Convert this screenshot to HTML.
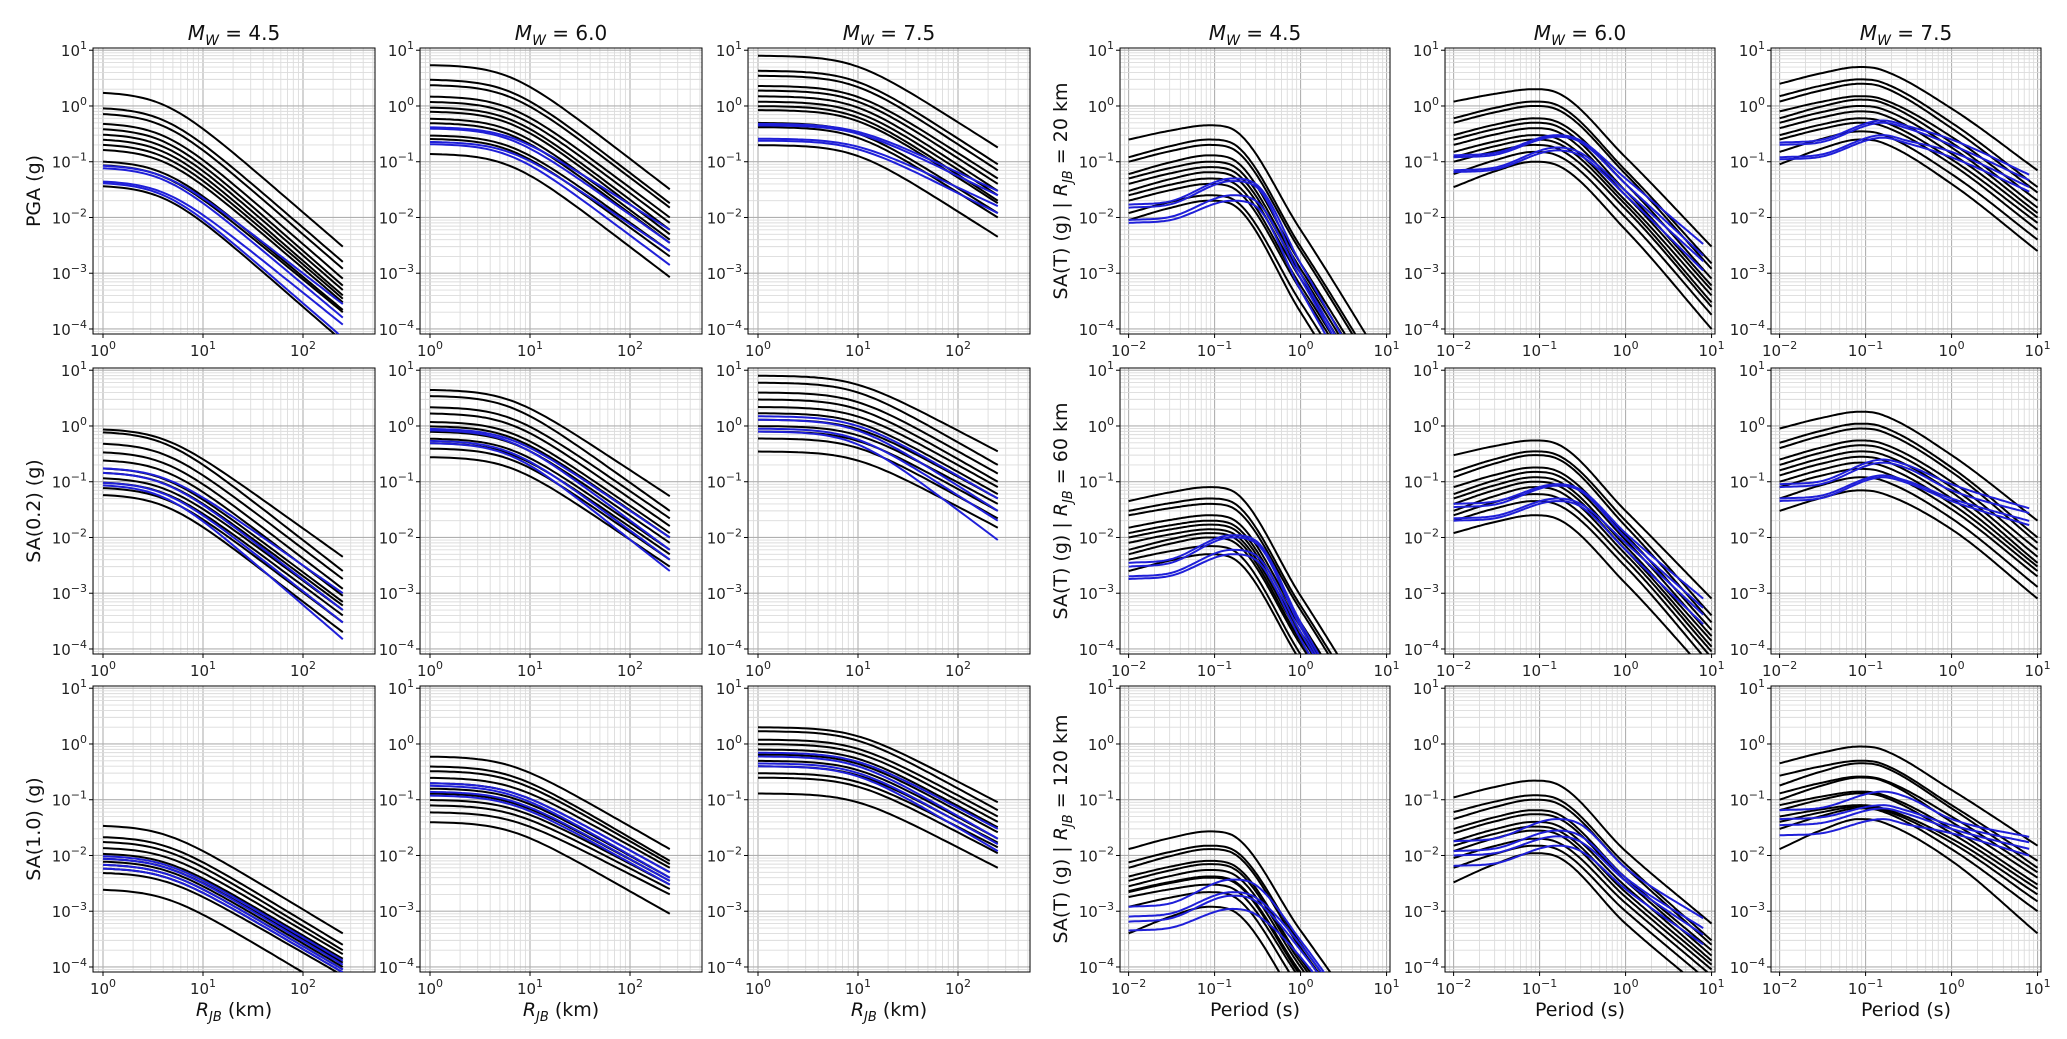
<!DOCTYPE html>
<html><head><meta charset="utf-8"><style>
html,body{margin:0;padding:0;background:#fff;width:2067px;height:1039px;overflow:hidden}
svg{display:block;font-family:"DejaVu Sans","Liberation Sans",sans-serif}
</style></head><body>
<svg id="fig" width="2067" height="1039" viewBox="0 0 2067 1039" xmlns="http://www.w3.org/2000/svg"></svg>
<script>
// ---------- data: distance panels (start value at R=1 km, end value at R=250 km) ----------
const magnitudes = ["4.5","6.0","7.5"];
const distLabels = ["PGA (g)","SA(0.2) (g)","SA(1.0) (g)"];
const periodRowDist = ["20","60","120"];
const dBlackStart = [
 [[1.8,0.95,0.75,0.5,0.4,0.32,0.26,0.21,0.17,0.105,0.09,0.038],[5.5,3,2.4,1.5,1.2,0.95,0.8,0.6,0.5,0.3,0.26,0.14],[8,4.3,3.5,2.3,1.9,1.5,1.2,1.0,0.85,0.5,0.42,0.2]],
 [[0.9,0.8,0.5,0.35,0.25,0.18,0.15,0.12,0.1,0.08,0.06],[4.5,3.5,2.2,1.7,1.2,1,0.8,0.6,0.5,0.4,0.28],[8,6,4,3,2.2,1.7,1.3,1.0,0.8,0.6,0.35]],
 [[0.035,0.022,0.018,0.014,0.011,0.009,0.008,0.007,0.006,0.005,0.0025],[0.6,0.4,0.33,0.25,0.2,0.16,0.13,0.1,0.08,0.06,0.04],[2,1.7,1.2,1.0,0.8,0.65,0.5,0.4,0.3,0.25,0.13]]];
const dBlackEnd = [
 [[3e-3,1.6e-3,1.2e-3,8e-4,6e-4,5e-4,4e-4,3.5e-4,3e-4,2.2e-4,2e-4,6e-5],[3.2e-2,1.8e-2,1.5e-2,1e-2,8e-3,6e-3,5e-3,4e-3,3.5e-3,2.5e-3,2e-3,8.5e-4],[0.18,0.09,0.07,0.05,0.04,0.03,0.025,0.02,0.018,0.012,0.01,4.5e-3]],
 [[4.5e-3,2.5e-3,1.8e-3,1.2e-3,9e-4,7e-4,6e-4,5e-4,4e-4,3e-4,2e-4],[0.055,0.03,0.022,0.016,0.012,0.01,0.008,0.006,0.005,0.004,0.003],[0.35,0.2,0.14,0.1,0.08,0.06,0.05,0.04,0.03,0.022,0.015]],
 [[4e-4,2.5e-4,2e-4,1.7e-4,1.4e-4,1.2e-4,1e-4,9e-5,8e-5,7e-5,3e-5],[0.013,0.008,0.007,0.006,0.005,0.004,0.0035,0.003,0.0025,0.002,0.0009],[0.09,0.065,0.05,0.04,0.032,0.026,0.02,0.017,0.014,0.011,0.006]]];
const dBlueStart = [
 [[0.088,0.08,0.046,0.043],[0.42,0.4,0.23,0.21],[0.48,0.45,0.26,0.24]],
 [[0.18,0.15,0.1,0.09],[0.9,0.85,0.55,0.5],[1.5,1.3,0.9,0.8]],
 [[0.01,0.009,0.007,0.006],[0.2,0.18,0.14,0.12],[0.7,0.6,0.45,0.4]]];
const dBlueEnd = [
 [[2.8e-4,1.6e-4,1.2e-4,7e-5],[6e-3,3.5e-3,2.5e-3,1.4e-3],[0.03,0.025,0.016,0.012]],
 [[1e-3,5e-4,3e-4,1.5e-4],[0.01,0.006,0.004,0.0025],[0.05,0.03,0.02,0.009]],
 [[1.3e-4,1.1e-4,9e-5,8e-5],[0.005,0.004,0.0035,0.003],[0.03,0.02,0.016,0.012]]];
// ---------- data: spectra panels (values at T=0.01, peak, T=1, T=10) ----------
const sBlackV0 = [
 [[0.25,0.12,0.1,0.06,0.05,0.04,0.03,0.025,0.02,0.012,0.009],[1.2,0.6,0.5,0.3,0.25,0.2,0.15,0.12,0.1,0.06,0.035],[2.5,1.5,1.2,0.8,0.6,0.5,0.4,0.3,0.25,0.15,0.09]],
 [[0.045,0.03,0.025,0.015,0.012,0.01,0.008,0.006,0.005,0.004,0.0025],[0.3,0.15,0.12,0.08,0.06,0.05,0.04,0.03,0.025,0.02,0.012],[0.9,0.5,0.4,0.25,0.2,0.16,0.13,0.1,0.08,0.05,0.03]],
 [[0.013,0.0075,0.006,0.0042,0.0035,0.0028,0.0023,0.0022,0.0018,0.0012,0.0004],[0.11,0.06,0.045,0.03,0.025,0.018,0.015,0.012,0.009,0.006,0.0033],[0.45,0.27,0.18,0.13,0.1,0.08,0.065,0.05,0.04,0.03,0.013]]];
const sBlackPk = [
 [[0.45,0.25,0.2,0.13,0.1,0.08,0.065,0.05,0.04,0.025,0.02],[2,1.2,1.0,0.6,0.5,0.4,0.3,0.25,0.2,0.15,0.1],[5,3,2.5,1.5,1.3,1.0,0.8,0.6,0.5,0.35,0.25]],
 [[0.08,0.05,0.04,0.025,0.02,0.017,0.014,0.012,0.01,0.007,0.005],[0.55,0.35,0.3,0.18,0.15,0.12,0.1,0.08,0.06,0.045,0.025],[1.8,1.1,0.9,0.55,0.45,0.35,0.28,0.22,0.17,0.12,0.07]],
 [[0.027,0.015,0.013,0.008,0.007,0.0055,0.0042,0.004,0.003,0.0022,0.0012],[0.22,0.12,0.1,0.065,0.055,0.04,0.033,0.028,0.02,0.015,0.011],[0.9,0.5,0.45,0.26,0.25,0.14,0.13,0.08,0.075,0.07,0.045]]];
const sBlackV1 = [
 [[0.006,0.003,0.0025,0.0015,0.0012,0.001,0.0008,0.0006,0.0005,0.0003,0.0002],[0.12,0.07,0.06,0.04,0.03,0.025,0.02,0.017,0.014,0.01,0.006],[0.9,0.5,0.4,0.28,0.22,0.18,0.14,0.11,0.09,0.06,0.04]],
 [[9e-4,6e-4,5e-4,3e-4,2.5e-4,2e-4,1.7e-4,1.4e-4,1.2e-4,8e-5,6e-5],[0.03,0.02,0.016,0.011,0.009,0.007,0.006,0.005,0.004,0.003,0.0015],[0.3,0.18,0.15,0.1,0.08,0.065,0.05,0.04,0.032,0.022,0.014]],
 [[4.5e-4,2.6e-4,2.2e-4,1.4e-4,1.2e-4,1e-4,8e-5,7e-5,6e-5,4e-5,2e-5],[0.012,0.007,0.006,0.004,0.0035,0.0028,0.0022,0.0018,0.0014,0.001,0.0006],[0.15,0.08,0.07,0.05,0.04,0.03,0.025,0.02,0.017,0.013,0.008]]];
const sBlackV10 = [
 [[2e-5,1e-5,8e-6,5e-6,4e-6,3e-6,2.5e-6,2e-6,1.5e-6,1e-6,6e-7],[3e-3,1.5e-3,1.2e-3,8e-4,6e-4,5e-4,4e-4,3e-4,2.5e-4,1.8e-4,1e-4],[0.07,0.035,0.028,0.02,0.015,0.012,0.01,0.008,0.006,0.004,0.0025]],
 [[3e-6,2e-6,1.5e-6,1e-6,8e-7,7e-7,6e-7,5e-7,4e-7,3e-7,2e-7],[8e-4,4e-4,3e-4,2.2e-4,1.7e-4,1.4e-4,1.1e-4,9e-5,7e-5,5e-5,3e-5],[0.02,0.01,0.008,0.006,0.0045,0.0035,0.003,0.0025,0.002,0.0013,8e-4]],
 [[3e-6,1.7e-6,1.5e-6,9e-7,8e-7,6e-7,5e-7,4.5e-7,4e-7,2.5e-7,1.3e-7],[6e-4,3e-4,2.5e-4,2e-4,1.6e-4,1.3e-4,1.1e-4,9e-5,7e-5,5e-5,3e-5],[0.015,0.008,0.006,0.005,0.004,0.003,0.0025,0.002,0.0015,0.001,4e-4]]];
const sBlueV0 = [
 [[0.017,0.015,0.009,0.008],[0.13,0.12,0.07,0.065],[0.22,0.2,0.12,0.11]],
 [[0.0035,0.003,0.002,0.0018],[0.04,0.035,0.022,0.02],[0.09,0.08,0.05,0.045]],
 [[0.0012,0.0008,0.00065,0.00045],[0.018,0.012,0.01,0.0065],[0.065,0.045,0.035,0.023]]];
const sBluePk = [
 [[0.05,0.045,0.025,0.02],[0.3,0.28,0.18,0.16],[0.55,0.5,0.3,0.27]],
 [[0.011,0.01,0.006,0.005],[0.09,0.085,0.05,0.045],[0.25,0.22,0.13,0.12]],
 [[0.0037,0.0022,0.0019,0.0011],[0.045,0.028,0.022,0.015],[0.14,0.08,0.07,0.045]]];
const sBlueV1 = [
 [[0.0015,0.001,0.0008,0.0005],[0.05,0.04,0.03,0.025],[0.25,0.2,0.15,0.12]],
 [[3e-4,2.5e-4,2e-4,1.5e-4],[0.012,0.01,0.008,0.006],[0.09,0.07,0.05,0.045]],
 [[3e-4,2.5e-4,2e-4,1.5e-4],[0.006,0.004,0.0035,0.0025],[0.045,0.035,0.03,0.025]]];
const sBlueV10 = [
 [[3e-6,2e-6,1.5e-6,1e-6],[2.5e-3,1.5e-3,1.2e-3,8e-4],[0.05,0.04,0.03,0.025]],
 [[6e-7,5e-7,4e-7,3e-7],[6e-4,4e-4,3e-4,2e-4],[0.03,0.025,0.018,0.015]],
 [[2e-6,1.5e-6,1.2e-6,1e-6],[6e-4,4e-4,3e-4,2e-4],[0.02,0.016,0.012,0.009]]];
const distKnee = [4,6,9];

// ---------- layout ----------
const NS="http://www.w3.org/2000/svg";
const svg=document.getElementById('fig');
const rowTop=[48,368,686], rowH=286;
const leftX=[93,420,748], leftW=282;
const rightX=[1120,1445,1771], rightW=270;
const Y0=-4.09, Y1=1.04;
function mk(tag,attrs,parent){const e=document.createElementNS(NS,tag);for(const k in attrs)e.setAttribute(k,attrs[k]);(parent||svg).appendChild(e);return e;}
function sup(t,base,exp){const a=document.createElementNS(NS,'tspan');a.textContent=base;t.appendChild(a);const b=document.createElementNS(NS,'tspan');b.setAttribute('dy','-7');b.setAttribute('font-size','11');b.textContent=exp;t.appendChild(b);}
let clipId=0;
function panel(px,py,pw,ph,xa,xb,name){
  const g=mk('g',{});
  
  
  const sx=v=>px+(Math.log10(v)-xa)/(xb-xa)*pw;
  const sy=v=>py+ph-(Math.log10(v)-Y0)/(Y1-Y0)*ph;
  for(let d=Math.floor(xa);d<=Math.ceil(xb);d++)for(let m=1;m<10;m++){const lv=d+Math.log10(m);if(lv<xa||lv>xb)continue;const x=sx(Math.pow(10,lv));mk('line',{x1:x,x2:x,y1:py,y2:py+ph,stroke:m==1?'#b0b0b0':'#dcdcdc','stroke-width':m==1?1.1:0.9},g);}
  for(let d=-5;d<=1;d++)for(let m=1;m<10;m++){const lv=d+Math.log10(m);if(lv<Y0||lv>Y1)continue;const y=sy(Math.pow(10,lv));mk('line',{x1:px,x2:px+pw,y1:y,y2:y,stroke:m==1?'#b0b0b0':'#dcdcdc','stroke-width':m==1?1.1:0.9},g);}
  mk('rect',{x:px,y:py,width:pw,height:ph,fill:'none',stroke:'#000','stroke-width':1},g);
  for(let d=Math.ceil(xa);d<=Math.floor(xb);d++){const x=sx(Math.pow(10,d));mk('line',{x1:x,x2:x,y1:py+ph,y2:py+ph+4,stroke:'#000'},g);const t=mk('text',{x:x,y:py+ph+22,'text-anchor':'middle','font-size':15,fill:'#222'},g);sup(t,'10',d<0?'\u2212'+(-d):String(d));}
  for(let d=-4;d<=1;d++){const y=sy(Math.pow(10,d));mk('line',{x1:px-4,x2:px,y1:y,y2:y,stroke:'#000'},g);const t=mk('text',{x:px-6,y:y+6,'text-anchor':'end','font-size':15,fill:'#222'},g);sup(t,'10',d<0?'\u2212'+(-d):String(d));}
  const cid='c'+(clipId++);const cp=mk('clipPath',{id:cid},g);mk('rect',{x:px,y:py,width:pw,height:ph},cp);
  const lines=mk('g',{'clip-path':'url(#'+cid+')'},g);
  return {sx,sy,lines};
}
function pathFrom(pts,P){return pts.map((p,i)=>(i?'L':'M')+P.sx(p[0]).toFixed(1)+','+P.sy(p[1]).toFixed(1)).join('');}
function distCurve(s,e,h){const b=-2*Math.log10(e/s)/Math.log10(1+(250/h)**2);const pts=[];for(let i=0;i<=60;i++){const R=Math.pow(10,i/60*Math.log10(250));pts.push([R,s*Math.pow(1+(R/h)**2,-b/2)]);}return pts;}
// monotone cubic (Fritsch-Carlson) in log-log space
function monotone(xs,ys,xq){
  const n=xs.length,d=[],m=new Array(n);
  for(let i=0;i<n-1;i++)d.push((ys[i+1]-ys[i])/(xs[i+1]-xs[i]));
  m[0]=d[0];m[n-1]=d[n-2];
  for(let i=1;i<n-1;i++)m[i]=(d[i-1]*d[i]<=0)?0:(d[i-1]+d[i])/2;
  for(let i=0;i<n-1;i++){if(d[i]===0){m[i]=m[i+1]=0;continue;}const a=m[i]/d[i],b=m[i+1]/d[i],s=a*a+b*b;if(s>9){const t=3/Math.sqrt(s);m[i]=t*a*d[i];m[i+1]=t*b*d[i];}}
  let k=0;while(k<n-2&&xq>xs[k+1])k++;
  const h=xs[k+1]-xs[k],t=(xq-xs[k])/h,t2=t*t,t3=t2*t;
  return (2*t3-3*t2+1)*ys[k]+(t3-2*t2+t)*h*m[k]+(-2*t3+3*t2)*ys[k+1]+(t3-t2)*h*m[k+1];
}
function specCurve(v0,pk,v1,v10,blue,Tend){
  let cx,cy;
  if(blue){cx=[0.01,0.03,0.16,0.3,1,10];cy=[v0,v0*Math.pow(pk/v0,0.12),pk,pk*0.8,v1,v10];}
  else{cx=[0.01,0.03,0.085,0.15,1,10];cy=[v0,v0*Math.pow(pk/v0,0.62),pk,pk*0.9,v1,v10];}
  const lx=cx.map(Math.log10),ly=cy.map(Math.log10);
  const pts=[];const end=Math.log10(Tend);
  for(let i=0;i<=120;i++){const x=-2+i/120*(end+2);pts.push([Math.pow(10,x),Math.pow(10,monotone(lx,ly,x))]);}
  return pts;}
function line(P,pts,color,name){const p=mk('path',{d:pathFrom(pts,P),fill:'none',stroke:color,'stroke-width':2,'stroke-linejoin':'round'},P.lines);}

for(let r=0;r<3;r++)for(let c=0;c<3;c++){
  const P=panel(leftX[c],rowTop[r],leftW,rowH,-0.1,2.72,'distance-panel-r'+(r+1)+'-m'+magnitudes[c]);
  dBlackStart[r][c].forEach((s,i)=>line(P,distCurve(s,dBlackEnd[r][c][i],distKnee[c]),'#000','model-curve-black'));
  dBlueStart[r][c].forEach((s,i)=>line(P,distCurve(s,dBlueEnd[r][c][i],distKnee[c]),'#1f1fd8','model-curve-blue'));
  const Q=panel(rightX[c],rowTop[r],rightW,rowH,-2.1,1.04,'spectrum-panel-r'+(r+1)+'-m'+magnitudes[c]);
  sBlackV0[r][c].forEach((v,i)=>line(Q,specCurve(v,sBlackPk[r][c][i],sBlackV1[r][c][i],sBlackV10[r][c][i],false,10),'#000','spectrum-curve-black'));
  sBlueV0[r][c].forEach((v,i)=>line(Q,specCurve(v,sBluePk[r][c][i],sBlueV1[r][c][i],sBlueV10[r][c][i],true,8),'#1f1fd8','spectrum-curve-blue'));
}
function title(cx,m){const t=mk('text',{x:cx,y:40,'text-anchor':'middle','font-size':20,fill:'#111'});
  const a=document.createElementNS(NS,'tspan');a.setAttribute('font-style','italic');a.textContent='M';t.appendChild(a);
  const b=document.createElementNS(NS,'tspan');b.setAttribute('font-style','italic');b.setAttribute('font-size','14');b.setAttribute('dy','5');b.textContent='W';t.appendChild(b);
  const d=document.createElementNS(NS,'tspan');d.setAttribute('dy','-5');d.textContent=' = '+m;t.appendChild(d);}
for(let c=0;c<3;c++){title(leftX[c]+leftW/2,magnitudes[c]);title(rightX[c]+rightW/2,magnitudes[c]);}
for(let r=0;r<3;r++){
  const yc=rowTop[r]+rowH/2;
  const t=mk('text',{x:0,y:0,'text-anchor':'middle','font-size':19,fill:'#111',transform:'translate(40,'+yc+') rotate(-90)'});
  t.textContent=distLabels[r];
  const u=mk('text',{x:0,y:0,'text-anchor':'middle','font-size':19,fill:'#111',transform:'translate(1067,'+yc+') rotate(-90)'});
  
  const s1=document.createElementNS(NS,'tspan');s1.textContent='SA(T) (g) | ';u.appendChild(s1);
  const s2=document.createElementNS(NS,'tspan');s2.setAttribute('font-style','italic');s2.textContent='R';u.appendChild(s2);
  const s3=document.createElementNS(NS,'tspan');s3.setAttribute('font-style','italic');s3.setAttribute('font-size','13');s3.setAttribute('dy','5');s3.textContent='JB';u.appendChild(s3);
  const s4=document.createElementNS(NS,'tspan');s4.setAttribute('dy','-5');s4.textContent=' = '+periodRowDist[r]+' km';u.appendChild(s4);
}
for(let c=0;c<3;c++){
  const t=mk('text',{x:leftX[c]+leftW/2,y:1016,'text-anchor':'middle','font-size':19,fill:'#111'});
  
  const a=document.createElementNS(NS,'tspan');a.setAttribute('font-style','italic');a.textContent='R';t.appendChild(a);
  const b=document.createElementNS(NS,'tspan');b.setAttribute('font-style','italic');b.setAttribute('font-size','13');b.setAttribute('dy','5');b.textContent='JB';t.appendChild(b);
  const d=document.createElementNS(NS,'tspan');d.setAttribute('dy','-5');d.textContent=' (km)';t.appendChild(d);
  const u=mk('text',{x:rightX[c]+rightW/2,y:1016,'text-anchor':'middle','font-size':19,fill:'#111'});
  u.textContent='Period (s)';
}
</script>
</body></html>
